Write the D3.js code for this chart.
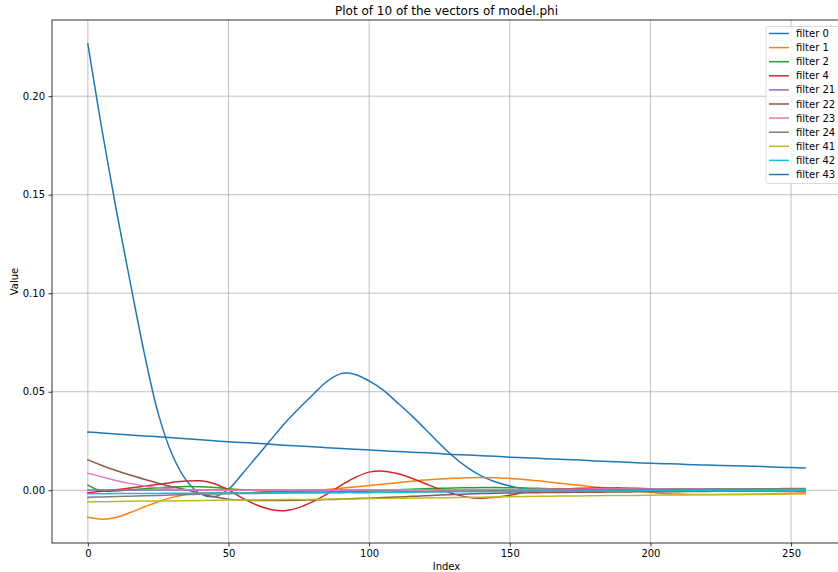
<!DOCTYPE html>
<html>
<head>
<meta charset="utf-8">
<script src="https://cdn.jsdelivr.net/npm/d3@7"></script>
<style>
  html, body { margin: 0; padding: 0; background: #fff; }
  svg { display: block; font-family: "DejaVu Sans", sans-serif; }
</style>
</head>
<body>
<div id="chart"></div>
<script>
// Sample positions along the filter vector (0..255)
const sampleIndex = [0,5,10,15,20,25,30,35,40,45,50,55,60,65,70,75,80,85,90,95,100,105,110,115,120,125,130,135,140,145,150,155,160,165,170,175,180,185,190,195,200,205,210,215,220,225,230,235,240,245,250,255];

const seriesNames = ["filter 0","filter 1","filter 2","filter 4","filter 21","filter 22","filter 23","filter 24","filter 41","filter 42","filter 43"];
const seriesColors = ["#1f77b4","#ff7f0e","#2ca02c","#d62728","#9467bd","#8c564b","#e377c2","#7f7f7f","#bcbd22","#17becf","#1f77b4"];

const filter0 = [0.2266,0.183,0.143,0.106,0.070,0.039,0.018,0.0050,-0.0018,-0.0032,0.0005,0.0085,0.0170,0.0255,0.0340,0.0415,0.0485,0.0552,0.0592,0.0588,0.0555,0.0508,0.0445,0.0380,0.0310,0.0237,0.0170,0.0115,0.0072,0.0042,0.0022,0.0009,0.0002,-0.0002,-0.0003,-0.0004,-0.0004,-0.0004,-0.0004,-0.0003,-0.0003,-0.0003,-0.0003,-0.0003,-0.0003,-0.0003,-0.0003,-0.0003,-0.0003,-0.0003,-0.0003,-0.0003];
const filter1 = [-0.0137,-0.0147,-0.0138,-0.0113,-0.0085,-0.0058,-0.0036,-0.0021,-0.0014,-0.0012,-0.0012,-0.0012,-0.0012,-0.0011,-0.0009,-0.0006,-0.0002,0.0004,0.0010,0.0017,0.0024,0.0031,0.0038,0.0046,0.0052,0.0057,0.0061,0.0064,0.0065,0.0064,0.0060,0.0055,0.0048,0.0040,0.0032,0.0025,0.0017,0.0010,0.0004,-0.0004,-0.0010,-0.0016,-0.0019,-0.0021,-0.0022,-0.0022,-0.0021,-0.0020,-0.0019,-0.0017,-0.0015,-0.0013];
const filter2 = [0.0026,-0.0004,-0.0004,0.0002,0.0008,0.0013,0.0017,0.0019,0.0018,0.0014,0.0008,0.0002,-0.0003,-0.0006,-0.0008,-0.0009,-0.0009,-0.0009,-0.0008,-0.0006,-0.0004,-0.0001,0.0002,0.0005,0.0008,0.0010,0.0012,0.0013,0.0014,0.0014,0.0013,0.0012,0.0010,0.0008,0.0006,0.0004,0.0002,0.0001,0.0000,-0.0001,-0.0001,-0.0002,-0.0002,-0.0002,-0.0002,-0.0002,-0.0002,-0.0002,-0.0002,-0.0002,-0.0002,-0.0002];
const filter4 = [-0.0012,-0.0005,0.0003,0.0011,0.0020,0.0030,0.0040,0.0047,0.0048,0.0033,0.0002,-0.0040,-0.0075,-0.0098,-0.0104,-0.0088,-0.0058,-0.0020,0.0025,0.0065,0.0092,0.0097,0.0085,0.0062,0.0033,0.0005,-0.0018,-0.0035,-0.0040,-0.0036,-0.0025,-0.0012,-0.0002,0.0004,0.0008,0.0010,0.0012,0.0012,0.0012,0.0010,0.0008,0.0006,0.0005,0.0004,0.0003,0.0003,0.0002,0.0002,0.0002,0.0001,0.0001,0.0001];
const filter21 = [0.0001,0.0001,0.0001,0.0001,0.0001,0.0001,0.0001,0.0001,0.0001,0.0001,0.0001,0.0001,0.0001,0.0001,0.0001,0.0001,0.0001,0.0001,0.0001,0.0001,0.0002,0.0002,0.0002,0.0002,0.0002,0.0002,0.0002,0.0002,0.0002,0.0002,0.0003,0.0003,0.0003,0.0003,0.0003,0.0003,0.0003,0.0004,0.0004,0.0004,0.0004,0.0004,0.0004,0.0004,0.0005,0.0005,0.0005,0.0005,0.0005,0.0005,0.0005,0.0005];
const filter22 = [0.0154,0.0126,0.0100,0.0077,0.0056,0.0036,0.0018,0.0003,-0.0017,-0.0033,-0.0045,-0.0050,-0.0052,-0.0052,-0.0052,-0.0051,-0.0049,-0.0047,-0.0045,-0.0042,-0.0040,-0.0037,-0.0034,-0.0031,-0.0028,-0.0024,-0.0021,-0.0019,-0.0017,-0.0015,-0.0014,-0.0013,-0.0012,-0.0011,-0.0011,-0.0010,-0.0010,-0.0009,-0.0009,-0.0008,-0.0008,-0.0007,-0.0007,-0.0006,-0.0006,-0.0005,-0.0005,-0.0004,-0.0004,-0.0004,-0.0003,-0.0003];
const filter23 = [0.0087,0.0068,0.0050,0.0035,0.0022,0.0013,0.0007,0.0003,0.0001,0.0000,0.0000,0.0000,0.0000,0.0000,0.0000,0.0001,0.0001,0.0001,0.0001,0.0001,0.0002,0.0002,0.0002,0.0002,0.0003,0.0003,0.0003,0.0003,0.0004,0.0004,0.0004,0.0004,0.0005,0.0005,0.0005,0.0005,0.0006,0.0006,0.0006,0.0006,0.0007,0.0007,0.0007,0.0007,0.0007,0.0008,0.0008,0.0008,0.0008,0.0008,0.0008,0.0008];
const filter24 = [-0.0036,-0.0034,-0.0032,-0.0030,-0.0028,-0.0026,-0.0024,-0.0022,-0.0020,-0.0019,-0.0018,-0.0017,-0.0016,-0.0015,-0.0014,-0.0013,-0.0012,-0.0011,-0.0011,-0.0010,-0.0010,-0.0009,-0.0008,-0.0008,-0.0007,-0.0006,-0.0005,-0.0005,-0.0004,-0.0003,-0.0002,-0.0002,-0.0001,0.0000,0.0000,0.0001,0.0002,0.0002,0.0003,0.0003,0.0004,0.0004,0.0005,0.0005,0.0006,0.0006,0.0007,0.0007,0.0008,0.0008,0.0009,0.0009];
const filter41 = [-0.0059,-0.0058,-0.0057,-0.0056,-0.0055,-0.0054,-0.0054,-0.0053,-0.0052,-0.0051,-0.0050,-0.0049,-0.0049,-0.0048,-0.0047,-0.0047,-0.0046,-0.0045,-0.0044,-0.0044,-0.0043,-0.0042,-0.0041,-0.0040,-0.0039,-0.0038,-0.0037,-0.0036,-0.0035,-0.0034,-0.0033,-0.0032,-0.0031,-0.0030,-0.0029,-0.0029,-0.0028,-0.0027,-0.0026,-0.0026,-0.0025,-0.0024,-0.0024,-0.0023,-0.0023,-0.0022,-0.0022,-0.0021,-0.0021,-0.0020,-0.0019,-0.0019];
const filter42 = [-0.0018,-0.0018,-0.0017,-0.0017,-0.0016,-0.0016,-0.0015,-0.0015,-0.0015,-0.0014,-0.0014,-0.0014,-0.0014,-0.0013,-0.0013,-0.0013,-0.0013,-0.0013,-0.0012,-0.0012,-0.0012,-0.0011,-0.0011,-0.0010,-0.0009,-0.0009,-0.0008,-0.0008,-0.0007,-0.0007,-0.0006,-0.0006,-0.0005,-0.0005,-0.0005,-0.0004,-0.0004,-0.0004,-0.0004,-0.0003,-0.0003,-0.0003,-0.0003,-0.0003,-0.0003,-0.0002,-0.0002,-0.0002,-0.0002,-0.0002,-0.0002,-0.0002];
const filter43 = [0.0296,0.0291,0.0286,0.0281,0.0276,0.0271,0.0266,0.0261,0.0256,0.0251,0.0246,0.0242,0.0238,0.0233,0.0229,0.0225,0.0221,0.0216,0.0212,0.0208,0.0204,0.0200,0.0197,0.0193,0.0190,0.0186,0.0182,0.0179,0.0175,0.0172,0.0168,0.0165,0.0162,0.0159,0.0156,0.0153,0.0149,0.0146,0.0143,0.0140,0.0137,0.0135,0.0133,0.0130,0.0128,0.0126,0.0124,0.0122,0.0120,0.0117,0.0115,0.0113];

const seriesValues = [filter0, filter1, filter2, filter4, filter21, filter22, filter23, filter24, filter41, filter42, filter43];

const xTicks = [0, 50, 100, 150, 200, 250];
const yTicks = [0.00, 0.05, 0.10, 0.15, 0.20];

const titleText = "Plot of 10 of the vectors of model.phi";
const xLabel = "Index";
const yLabel = "Value";

// ---- layout ----
const W = 838, H = 572;
const plot = { left: 52, top: 20, right: 841, bottom: 543 };

const svg = d3.select("#chart").append("svg")
  .attr("width", W).attr("height", H);

// Data limits with a 5% pad on each side
const xMin = d3.min(sampleIndex), xMax = d3.max(sampleIndex);
const allVals = seriesValues.flat();
const yMin = d3.min(allVals), yMax = d3.max(allVals);
const xPad = (xMax - xMin) * 0.05, yPad = (yMax - yMin) * 0.05;

const x = d3.scaleLinear().domain([xMin - xPad, xMax + xPad]).range([plot.left, plot.right]);
const y = d3.scaleLinear().domain([yMin - yPad, yMax + yPad]).range([plot.bottom, plot.top]);

// Grid
const grid = svg.append("g").attr("stroke", "#b0b0b0").attr("stroke-width", 0.8);
xTicks.forEach(t => grid.append("line")
  .attr("x1", x(t)).attr("x2", x(t)).attr("y1", plot.top).attr("y2", plot.bottom));
yTicks.forEach(t => grid.append("line")
  .attr("x1", plot.left).attr("x2", plot.right).attr("y1", y(t)).attr("y2", y(t)));

// Lines
svg.append("clipPath").attr("id", "plotclip").append("rect")
  .attr("x", plot.left).attr("y", plot.top)
  .attr("width", plot.right - plot.left).attr("height", plot.bottom - plot.top);

const line = d3.line()
  .x((d, i) => x(sampleIndex[i]))
  .y(d => y(d))
  .curve(d3.curveCatmullRom.alpha(0.5));

const lines = svg.append("g").attr("clip-path", "url(#plotclip)");
seriesValues.forEach((vals, k) => {
  lines.append("path")
    .attr("d", line(vals))
    .attr("fill", "none")
    .attr("stroke", seriesColors[k])
    .attr("stroke-width", 1.5)
    .attr("stroke-linejoin", "round")
    .attr("stroke-linecap", "square");
});

// Axes
const xAxis = d3.axisBottom(x).tickValues(xTicks).tickSize(3.5).tickPadding(3.5).tickFormat(d3.format("d"));
const yAxis = d3.axisLeft(y).tickValues(yTicks).tickSize(3.5).tickPadding(3.5).tickFormat(d3.format(".2f"));

const gx = svg.append("g").attr("transform", `translate(0,${plot.bottom})`).call(xAxis);
const gy = svg.append("g").attr("transform", `translate(${plot.left},0)`).call(yAxis);
[gx, gy].forEach(g => {
  g.select(".domain").remove();
  g.selectAll(".tick line").attr("stroke", "#000").attr("stroke-width", 0.8);
  g.selectAll(".tick text").attr("fill", "#000").style("font-size", "10px")
    .style("font-family", "'DejaVu Sans', sans-serif");
});

// Spines
const spines = svg.append("g").attr("stroke", "#000").attr("stroke-width", 0.8).attr("fill", "none");
spines.append("rect")
  .attr("x", plot.left).attr("y", plot.top)
  .attr("width", plot.right - plot.left).attr("height", plot.bottom - plot.top);

// Title and axis labels
svg.append("text")
  .attr("x", (plot.left + plot.right) / 2).attr("y", 15)
  .attr("text-anchor", "middle").style("font-size", "12px").attr("fill", "#000")
  .text(titleText);
svg.append("text")
  .attr("x", (plot.left + plot.right) / 2).attr("y", 570)
  .attr("text-anchor", "middle").style("font-size", "10px").attr("fill", "#000")
  .text(xLabel);
svg.append("text")
  .attr("transform", `translate(18,${(plot.top + plot.bottom) / 2}) rotate(-90)`)
  .attr("text-anchor", "middle").style("font-size", "10px").attr("fill", "#000")
  .text(yLabel);

// Legend
const lg = svg.append("g").attr("transform", "translate(766,26.5)");
lg.append("rect")
  .attr("x", 0).attr("y", 0).attr("width", 80).attr("height", 157)
  .attr("rx", 2).attr("fill", "#fff").attr("fill-opacity", 0.8)
  .attr("stroke", "#d0d0d0").attr("stroke-width", 0.8);
seriesNames.forEach((name, k) => {
  const yy = 7 + k * 14.1;
  lg.append("line")
    .attr("x1", 3).attr("x2", 23).attr("y1", yy).attr("y2", yy)
    .attr("stroke", seriesColors[k]).attr("stroke-width", 1.5);
  lg.append("text")
    .attr("x", 30).attr("y", yy).attr("dy", "0.35em")
    .style("font-size", "10px").attr("fill", "#000")
    .text(name);
});
</script>
</body>
</html>
